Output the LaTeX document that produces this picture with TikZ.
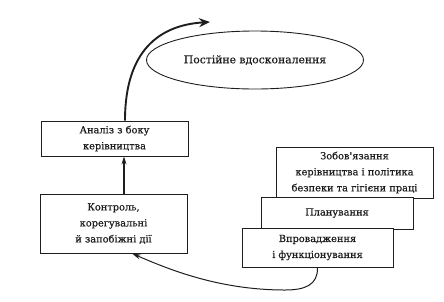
\documentclass[tikz,border=0pt]{standalone}
\usepackage{fontspec}
\setmainfont{DejaVu Serif}[FakeBold=0.6,AutoFakeBold=0.6]
\newfontfamily\boxfont{DejaVu Serif}[FakeBold=0.6]
\usetikzlibrary{arrows.meta,shapes.geometric}
\definecolor{ink}{HTML}{1E1E1E}
\begin{document}
\begin{tikzpicture}[x=1pt,y=-1pt,
  box/.style={draw=ink,line width=0.9pt,fill=white,align=center,inner sep=0pt,
    font=\boxfont\fontsize{9.8}{16}\selectfont,text=ink},
  oval/.style={draw=ink,line width=0.9pt,ellipse,inner sep=0pt,
    font=\boxfont\fontsize{10.8}{16}\selectfont,text=ink}]
\useasboundingbox (0,0) rectangle (444,301);
\node[oval,minimum width=217pt,minimum height=58pt] (e) at (255,60) {Постійне вдосконалення};
\node[box,minimum width=147pt,minimum height=35pt] (a) at (114.5,138.5) {Аналіз з боку\\керівництва};
\node[box,minimum width=147pt,minimum height=59pt] (c) at (113.5,223.5) {Контроль,\\корегувальні\\й запобіжні дії};
\node[box,minimum width=157pt,minimum height=51pt] (z) at (354.5,172.5) {Зобов'язання\\керівництва і політика\\безпеки та гігієни праці};
\node[box,minimum width=152pt,minimum height=32pt] (p) at (337,213) {Планування};
\node[box,minimum width=151pt,minimum height=39pt] (v) at (317.5,247.5) {Впровадження\\і функціонування};
\coordinate (t) at (210,22);
\draw[ink,line width=1.9pt,-{Stealth[length=11pt,width=9pt]}] ([xshift=10.5pt]a.north) .. controls (125,50) and (160,25) .. (t);
\draw[ink,line width=1.1pt,-{Stealth[length=8pt,width=5pt]}] ([xshift=10.5pt]c.north) -- ([xshift=9.5pt]a.south);
\coordinate (b) at (285,290);
\draw[ink,line width=1pt,-{Stealth[length=9pt,width=5pt]}] (v.south) .. controls (318,285) and (305,290) .. (b) .. controls (220,290) and (170,270) .. ([xshift=18.5pt]c.south);
\end{tikzpicture}
\end{document}
